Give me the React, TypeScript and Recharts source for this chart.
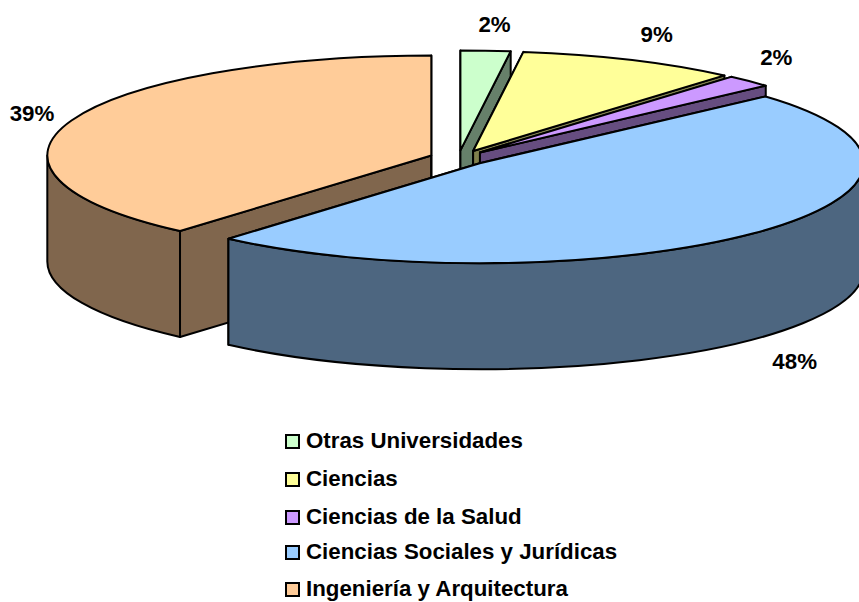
import { Legend, Pie, PieChart } from "recharts";

const CATEGORIES = [
  "Otras Universidades",
  "Ciencias",
  "Ciencias de la Salud",
  "Ciencias Sociales y Jurídicas",
  "Ingeniería y Arquitectura",
];
const PERCENTS = [2, 9, 2, 48, 39];
const TOP_COLORS = ["#CCFFCC", "#FFFF99", "#CC99FF", "#99CCFF", "#FFCC99"];
const SIDE_COLORS = ["#66806A", "#80804D", "#664D80", "#4D6680", "#80664D"];

// small per-label adjustment, px
const LABEL_NUDGE = [
  [10, -26],
  [34, -25],
  [35, -22],
  [35, 24],
  [-38, -8],
];
const APEX_NUDGE = [0, 3, 1.5, 0, 0];
const LEGEND_ROWS = [0, 38, 76, 111, 148];

const CX = 458.6;
const CY = 158;
const RX = 384;
const RY = 100;
const DEPTH = 106;
const EXPLODE_X = 29;
const EXPLODE_Y = 7.6;
const FONT_SIZE = 22.3;
const FONT = '"Liberation Sans", Arial, sans-serif';

const data = CATEGORIES.map((name, i) => ({
  name,
  value: PERCENTS[i],
  top: TOP_COLORS[i],
  side: SIDE_COLORS[i],
  index: i,
}));

const rad = (deg: number) => (deg * Math.PI) / 180;

// the apex of a slice, pushed out along its middle angle
const apexOf = (mid: number, index: number) => [
  CX + EXPLODE_X * Math.sin(rad(mid)) + APEX_NUDGE[index],
  CY - EXPLODE_Y * Math.cos(rad(mid)),
];

// the reference is drawn in perspective, its angles lean a little to the sides
const warp = (t: number) => t + 1.3 * Math.sin(rad(2 * t));

function Slice3D(props: any) {
  const from = 90 - props.startAngle;
  const to = 90 - props.endAngle;
  const [ax, ay] = apexOf((from + to) / 2, props.index);
  const px = (t: number) => ax + RX * Math.sin(rad(warp(t)));
  const py = (t: number) => ay - RY * Math.cos(rad(warp(t)));
  const large = to - from > 180 ? 1 : 0;
  const stroke = { stroke: "#000", strokeWidth: 2, strokeLinejoin: "round" as const };

  const face = (t: number) =>
    `M${ax},${ay} L${px(t)},${py(t)} L${px(t)},${py(t) + DEPTH} L${ax},${ay + DEPTH} Z`;

  const rimFrom = Math.max(from, 90);
  const rimTo = Math.min(to, 270);
  const rim =
    rimTo > rimFrom
      ? `M${px(rimFrom)},${py(rimFrom)} A${RX},${RY} 0 0 1 ${px(rimTo)},${py(rimTo)} ` +
        `L${px(rimTo)},${py(rimTo) + DEPTH} A${RX},${RY} 0 0 0 ${px(rimFrom)},${py(rimFrom) + DEPTH} Z`
      : null;

  return (
    <g>
      <path d={face(from)} fill={props.side} {...stroke} />
      <path d={face(to)} fill={props.side} {...stroke} />
      {rim ? <path d={rim} fill={props.side} {...stroke} /> : null}
      <path
        d={`M${ax},${ay} L${px(from)},${py(from)} A${RX},${RY} 0 ${large} 1 ${px(to)},${py(to)} Z`}
        fill={props.top}
        {...stroke}
      />
    </g>
  );
}

const renderLabel = (props: any) => {
  const mid = 90 - props.midAngle;
  const [ax, ay] = apexOf(mid, props.index);
  const front = Math.cos(rad(mid)) < 0 ? DEPTH : 0;
  const [dx, dy] = LABEL_NUDGE[props.index];
  return (
    <text
      x={ax + RX * Math.sin(rad(mid)) + dx - APEX_NUDGE[props.index]}
      y={ay - RY * Math.cos(rad(mid)) + front + dy}
      textAnchor="middle"
      dominantBaseline="central"
      fontFamily={FONT}
      fontWeight="bold"
      fontSize={FONT_SIZE}
      fill="#000"
    >
      {`${props.value}%`}
    </text>
  );
};

const renderLegend = () => (
  <div style={{ position: "relative", width: 400, height: 170 }}>
    {CATEGORIES.map((name, i) => (
      <div
        key={name}
        style={{
          position: "absolute",
          top: LEGEND_ROWS[i],
          left: 0,
          display: "flex",
          alignItems: "center",
          height: 24,
          fontFamily: FONT,
          fontWeight: "bold",
          fontSize: FONT_SIZE,
          color: "#000",
          whiteSpace: "nowrap",
        }}
      >
        <span
          style={{
            width: 11,
            height: 11,
            marginRight: 6,
            background: TOP_COLORS[i],
            border: "2px solid #000",
            display: "inline-block",
          }}
        />
        {name}
      </div>
    ))}
  </div>
);

export default function App() {
  return (
    <div style={{ position: "absolute", left: 0, top: 0, width: 859, height: 602, overflow: "hidden" }}>
      <PieChart width={859} height={602} margin={{ top: 0, right: 0, bottom: 0, left: 0 }}>
        {/* the orange slice goes first, the blue one has to sit on top of it */}
        {[4, -1].map((only) => (
          <Pie
            key={only}
            data={data}
            dataKey="value"
            nameKey="name"
            cx={CX}
            cy={CY}
            outerRadius={RX}
            startAngle={90}
            endAngle={-270}
            labelLine={false}
            label={(p: any) => ((only === 4) === (p.index === 4) ? renderLabel(p) : <g />)}
            shape={(p: any) => ((only === 4) === (p.index === 4) ? <Slice3D {...p} /> : <g />)}
            isAnimationActive={false}
          />
        ))}
        <Legend
          content={renderLegend}
          wrapperStyle={{ position: "absolute", left: 285, top: 429, width: 400, bottom: "auto" }}
        />
      </PieChart>
    </div>
  );
}
